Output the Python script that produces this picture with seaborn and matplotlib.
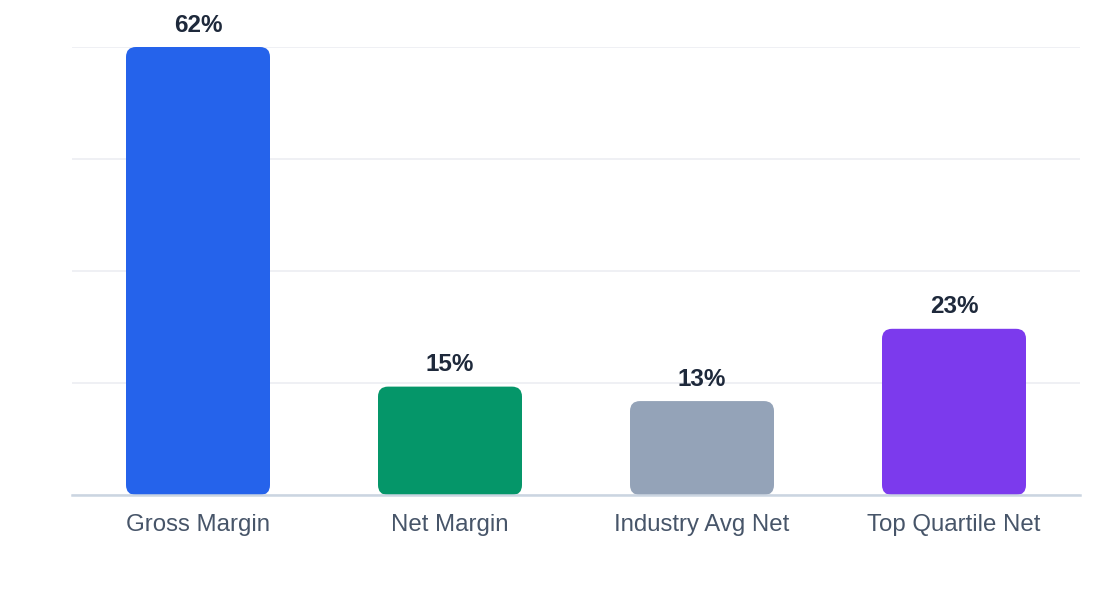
import numpy as np
import pandas as pd
import matplotlib
matplotlib.use("Agg")
import matplotlib.pyplot as plt
import seaborn as sns
from matplotlib.patches import FancyBboxPatch

# Dữ liệu
categories = ["Gross Margin", "Net Margin", "Industry Avg Net", "Top Quartile Net"]
values = [62, 15, 13, 23]
colors = ["#2563EB", "#059669", "#94A3B8", "#7C3AED"]

df = pd.DataFrame({"cat": categories, "val": values})

sns.set_theme(style="white")
plt.rcParams["font.family"] = ["Liberation Sans", "DejaVu Sans"]

fig = plt.figure(figsize=(11.2, 6), dpi=100)
ax = fig.add_axes([72 / 1120, 1 - 495 / 600, 1008 / 1120, 448 / 600])

sns.barplot(data=df, x="cat", y="val", hue="cat", palette=colors,
            width=144 / 252, legend=False, ax=ax, saturation=1)

ax.set_ylim(0, max(values))
ax.set_xlim(-0.5, len(categories) - 0.5)

# bo góc các cột
px_x = 1 / 252
px_y = max(values) / 448
r = 10 * px_x
for p in list(ax.patches):
    x0, y0 = p.get_x(), p.get_y()
    w, h = p.get_width(), p.get_height()
    fc = p.get_facecolor()
    p.remove()
    box = FancyBboxPatch((x0, y0), w, h,
                         boxstyle=f"round,pad=0,rounding_size={r}",
                         mutation_aspect=px_y / px_x,
                         facecolor=fc, edgecolor="none", zorder=3)
    ax.add_patch(box)

# nhãn giá trị
for i, v in enumerate(values):
    ax.annotate(f"{v}%", (i, v), xytext=(0, 7.5), textcoords="offset points",
                ha="center", va="bottom", fontsize=17.5, fontweight="bold",
                color="#1E293B", annotation_clip=False)

# lưới
ax.set_yticks(np.linspace(0, max(values), 5))
ax.yaxis.grid(True, color="#ECEEF2", linewidth=1.2, zorder=0)
ax.set_axisbelow(True)
ax.tick_params(axis="y", left=False, labelleft=False)
ax.tick_params(axis="x", bottom=False, pad=8, labelsize=17.3, labelcolor="#475569")

for s in ["top", "right", "left"]:
    ax.spines[s].set_visible(False)
ax.spines["bottom"].set_color("#CBD5E1")
ax.spines["bottom"].set_linewidth(1.8)
ax.spines["bottom"].set_zorder(4)

ax.set_xlabel("")
ax.set_ylabel("")

fig.savefig("out.png", dpi=100, facecolor="white")
